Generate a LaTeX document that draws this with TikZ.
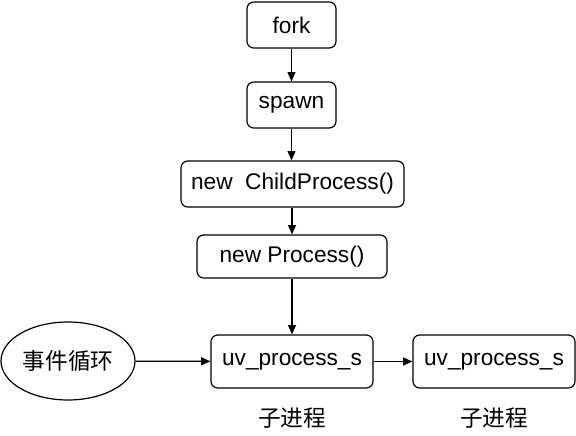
\documentclass[tikz,border=0pt]{standalone}
\usepackage{fontspec}
\setmainfont{Liberation Sans}
\newfontfamily\cjk{Noto Sans CJK SC}
\usetikzlibrary{arrows.meta,shapes.geometric}
\begin{document}
\begin{tikzpicture}[x=0.75pt,y=-0.75pt,
  box/.style={draw=black,line width=0.9pt,rounded corners=5pt,fill=white,inner sep=0pt,font=\fontsize{17}{20}\selectfont},
  conn/.style={draw=black,line width=0.9pt,-{Triangle[length=7pt,width=6pt]}},
  lbl/.style={font=\fontsize{17}{20}\selectfont\cjk,inner sep=0pt}]
\useasboundingbox (0,0) rectangle (576,436);
\node[box,minimum width=89*0.75pt,minimum height=46*0.75pt] (fork) at (291.5,25) {fork};
\node[box,minimum width=89*0.75pt,minimum height=46*0.75pt] (spawn) at (291.5,105) {spawn};
\node[box,minimum width=223*0.75pt,minimum height=46*0.75pt] (child) at (292.5,184) {new\ \ ChildProcess()};
\node[box,minimum width=190*0.75pt,minimum height=43*0.75pt] (proc) at (292,256.5) {new Process()};
\node[box,minimum width=162*0.75pt,minimum height=53*0.75pt] (uv1) at (292,361.5) {uv\_process\_s};
\node[box,minimum width=162*0.75pt,minimum height=53*0.75pt] (uv2) at (494,361.5) {uv\_process\_s};
\node[draw=black,line width=0.9pt,ellipse,minimum width=134*0.75pt,minimum height=78*0.75pt,inner sep=0pt,font=\fontsize{17}{20}\selectfont\cjk] (loop) at (68,361) {事件循环};
\node[lbl] (l1) at (292,418) {子进程};
\node[lbl] (l2) at (494,418) {子进程};
\draw[conn] (fork) -- (spawn);
\draw[conn] (spawn) -- (spawn |- child.north);
\draw[conn] (child.south -| proc) -- (proc);
\draw[conn] (proc) -- (uv1);
\draw[conn] (loop) -- (uv1);
\draw[conn] (uv1) -- (uv2);
\end{tikzpicture}
\end{document}
